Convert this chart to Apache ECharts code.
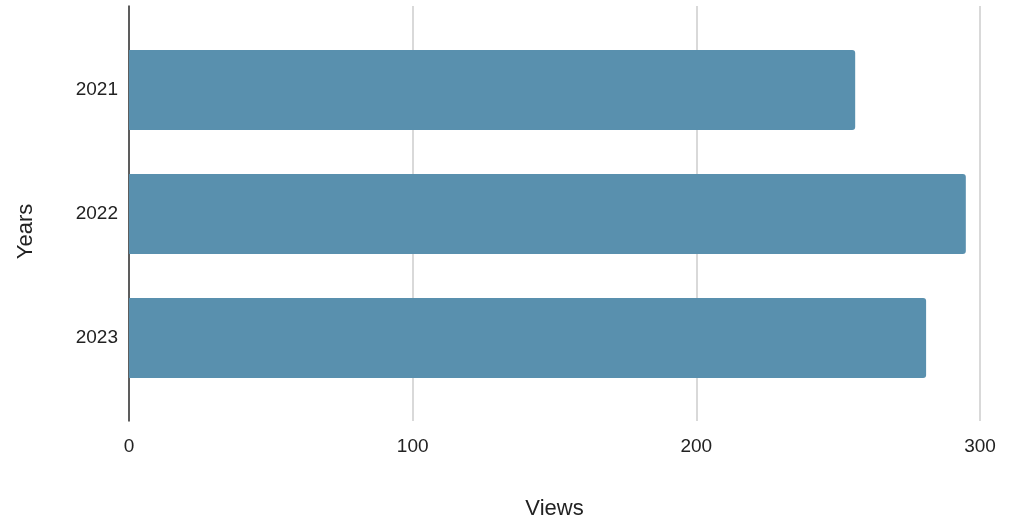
<!DOCTYPE html>
<html>
<head>
<meta charset="utf-8">
<script src="https://cdn.jsdelivr.net/npm/echarts@6/dist/echarts.min.js"></script>
<style>html,body{margin:0;padding:0;background:#fff;}#c{width:1017px;height:519px;}</style>
</head>
<body>
<div id="c"></div>
<script>
const categories = ['2021', '2022', '2023'];
const views = [256, 295, 281];
const xTicks = { min: 0, max: 300, interval: 100 };

const font = 'Liberation Sans, Arial, sans-serif';
const chart = echarts.init(document.getElementById('c'));
chart.setOption({
  animation: false,
  backgroundColor: '#ffffff',
  textStyle: { fontFamily: font },
  grid: [
    { left: 129, right: 37, top: 6, bottom: 98, containLabel: false, outerBoundsMode: 'none' },
    { left: 129, right: 37, top: 28, bottom: 119, containLabel: false, outerBoundsMode: 'none' }
  ],
  xAxis: [{
    type: 'value', gridIndex: 0,
    min: xTicks.min, max: xTicks.max, interval: xTicks.interval,
    name: 'Views', nameLocation: 'middle', nameGap: 77,
    nameTextStyle: { fontSize: 22, color: '#222' },
    axisLine: { show: false },
    axisTick: { show: false },
    axisLabel: { fontSize: 19, color: '#222', margin: 16 },
    splitLine: { show: true, lineStyle: { color: '#cccccc', width: 1.5 } }
  }, {
    type: 'value', gridIndex: 1,
    min: xTicks.min, max: xTicks.max, interval: xTicks.interval,
    show: false
  }],
  yAxis: [{
    type: 'value', gridIndex: 0,
    name: 'Years', nameLocation: 'middle', nameGap: 92,
    nameTextStyle: { fontSize: 22, color: '#222', padding: [0, 36, 0, 0] },
    axisLine: { show: true, lineStyle: { color: '#333', width: 1.5 } },
    axisTick: { show: false },
    axisLabel: { show: false },
    splitLine: { show: false }
  }, {
    type: 'category', gridIndex: 1,
    data: categories,
    inverse: true,
    axisLine: { show: false },
    axisTick: { show: false },
    axisLabel: { fontSize: 19, color: '#222', margin: 11, lineHeight: 19, padding: [4, 0, 0, 0] }
  }],
  series: [{
    type: 'bar',
    xAxisIndex: 1, yAxisIndex: 1,
    data: views,
    barCategoryGap: '35.5%',
    itemStyle: { color: '#5990ae', borderRadius: [0, 3, 3, 0] }
  }]
});
</script>
</body>
</html>
